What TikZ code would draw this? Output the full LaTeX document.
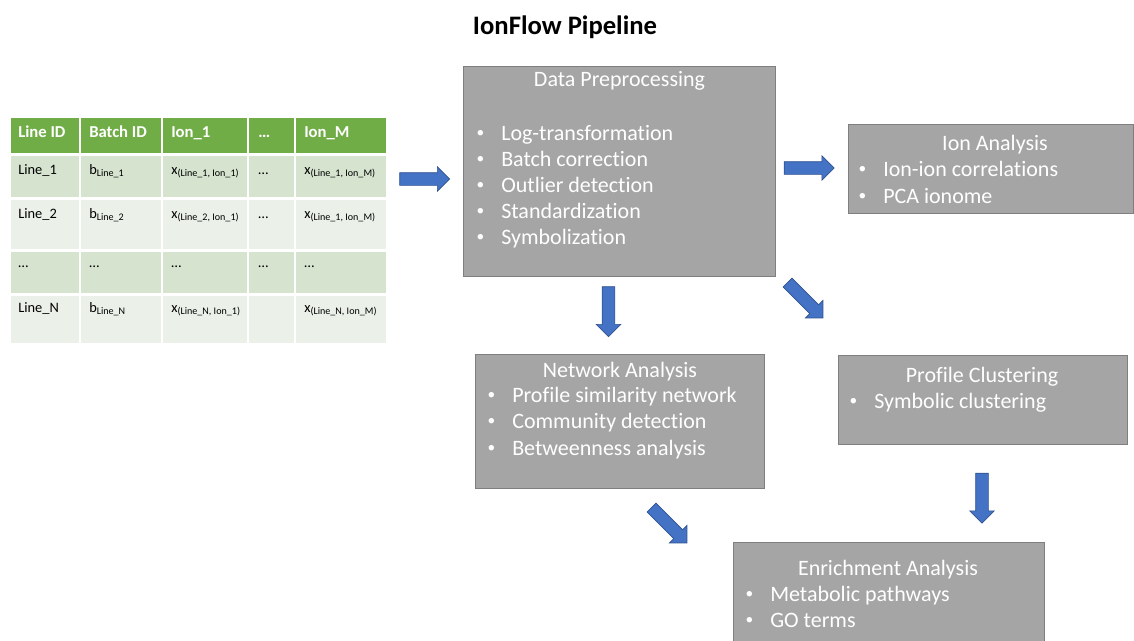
\documentclass[tikz,border=0pt]{standalone}
\usepackage{fontspec}
\setmainfont{Carlito}[Ligatures=NoCommon]
\usetikzlibrary{shapes.arrows,fit}

\definecolor{boxgray}{HTML}{A5A5A5}
\definecolor{boxedge}{HTML}{7F7F7F}
\definecolor{arrowblue}{HTML}{4472C4}
\definecolor{arrowedge}{HTML}{2F528F}
\definecolor{headgreen}{HTML}{70AD47}
\definecolor{rowdark}{HTML}{D5E3CF}
\definecolor{rowlight}{HTML}{EBF1E9}

% small bullet with a fixed indent before the item text
\newcommand{\bul}[1]{\makebox[19.5pt][l]{\hspace{1pt}\raisebox{0.12em}{\scalebox{0.7}{\textbullet}}}#1}

\tikzset{
  stagebox/.style={draw=boxedge, fill=boxgray, line width=0.6pt, inner sep=0pt},
  stagetitle/.style={text=white, font=\fontsize{16.5}{19.8}\selectfont, anchor=base, inner sep=0pt},
  stageitem/.style={text=white, font=\fontsize{16.5}{19.8}\selectfont, anchor=base west, inner sep=0pt},
  flowarrow/.style={single arrow, draw=arrowedge, fill=arrowblue, line width=0.5pt,
    inner xsep=0pt, inner ysep=4.5pt, minimum height=37.5pt,
    single arrow head extend=4.5pt, single arrow tip angle=90},
  headcell/.style={text=white, font=\fontsize{12.5}{15}\selectfont\bfseries, anchor=base west, inner sep=0pt},
  bodycell/.style={font=\fontsize{10.8}{13}\selectfont, anchor=base west, inner sep=0pt},
}

\begin{document}
\begin{tikzpicture}[x=0.75pt, y=-0.75pt]
  \clip (0,0) rectangle (1134,640);

  % Title
  \node[font=\fontsize{20}{24}\selectfont\bfseries, anchor=base] (title) at (565,34) {IonFlow Pipeline};

  % Input table
  \foreach \xa/\xb in {10/80, 80/162, 162/248, 248/295, 295/387} {
    \fill[headgreen] (\xa+1,118) rectangle (\xb-1,153);
    \fill[rowdark]   (\xa+1,156) rectangle (\xb-1,197);
    \fill[rowlight]  (\xa+1,200) rectangle (\xb-1,249);
    \fill[rowdark]   (\xa+1,252) rectangle (\xb-1,293);
    \fill[rowlight]  (\xa+1,296) rectangle (\xb-1,343);
  }
  \foreach \x/\t [count=\c] in {18/Line ID, 89/Batch ID, 171/Ion\_1, 258/…, 304/Ion\_M}
    \node[headcell] (head\c) at (\x,137) {\t};
  \foreach \x/\t [count=\c] in {18/Line\_1, 89/b\textsubscript{Line\_1}, 171/{x\textsubscript{(Line\_1, Ion\_1)}}, 258/…, 304/{x\textsubscript{(Line\_1, Ion\_M)}}}
    \node[bodycell] (rowa\c) at (\x,174) {\t};
  \foreach \x/\t [count=\c] in {18/Line\_2, 89/b\textsubscript{Line\_2}, 171/{x\textsubscript{(Line\_2, Ion\_1)}}, 258/…, 304/{x\textsubscript{(Line\_1, Ion\_M)}}}
    \node[bodycell] (rowb\c) at (\x,218) {\t};
  \foreach \x/\t [count=\c] in {18/…, 89/…, 171/…, 258/…, 304/…}
    \node[bodycell] (rowc\c) at (\x,267) {\t};
  \foreach \x/\t [count=\c] in {18/Line\_N, 89/b\textsubscript{Line\_N}, 171/{x\textsubscript{(Line\_N, Ion\_1)}}, 304/{x\textsubscript{(Line\_N, Ion\_M)}}}
    \node[bodycell] (rowd\c) at (\x,312) {\t};

  % Data preprocessing
  \node[stagebox, fit={(463,66) (775,276)}] (prep) {};
  \node[stagetitle] (preptitle) at (619.5,86) {Data Preprocessing};
  \foreach \t [count=\i from 0] in {Log-transformation, Batch correction, Outlier detection, Standardization, Symbolization}
    \node[stageitem] (prep\i) at (475,{140+26*\i}) {\bul{\t}};

  % Ion analysis
  \node[stagebox, fit={(848,124) (1133,213)}] (ion) {};
  \node[stagetitle] (iontitle) at (995,150) {Ion Analysis};
  \foreach \t [count=\i from 0] in {Ion-ion correlations, PCA ionome}
    \node[stageitem] (ion\i) at (857,{176.5+26.5*\i}) {\bul{\t}};

  % Network analysis
  \node[stagebox, fit={(475,354) (764,488)}] (net) {};
  \node[stagetitle] (nettitle) at (620,377) {Network Analysis};
  \foreach \t [count=\i from 0] in {Profile similarity network, Community detection, Betweenness analysis}
    \node[stageitem] (net\i) at (486,{402+26.5*\i}) {\bul{\t}};

  % Profile clustering
  \node[stagebox, fit={(838,355) (1127,444)}] (clust) {};
  \node[stagetitle] (clusttitle) at (982,382) {Profile Clustering};
  \node[stageitem] (clust0) at (848,408) {\bul{Symbolic clustering}};

  % Enrichment analysis
  \node[stagebox, fit={(733,542) (1044,650)}] (enrich) {};
  \node[stagetitle] (enrichtitle) at (888,575) {Enrichment Analysis};
  \foreach \t [count=\i from 0] in {Metabolic pathways, GO terms}
    \node[stageitem] (enrich\i) at (744,{601+26.5*\i}) {\bul{\t}};

  % Block arrows between the stages
  \node[flowarrow] (toprep) at (421.5,179) {};
  \node[flowarrow] (toion) at (806,168) {};
  \node[flowarrow, rotate=-90] (tonet) at (608.5,308.5) {};
  \node[flowarrow, rotate=-45] (toclust) at (803,298) {};
  \node[flowarrow, rotate=-45] (netenrich) at (667,523) {};
  \node[flowarrow, rotate=-90] (clustenrich) at (982,495) {};
\end{tikzpicture}
\end{document}
